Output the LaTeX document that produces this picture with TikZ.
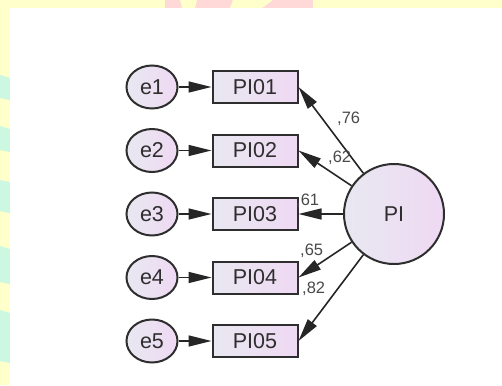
\documentclass[tikz,border=0pt]{standalone}
\usepackage{fontspec}
\setmainfont{Liberation Sans}
\usetikzlibrary{shapes.geometric, arrows.meta, positioning}

\definecolor{framey}{HTML}{FFFFCC}
\definecolor{frameg}{HTML}{CCF7E0}
\definecolor{framep}{HTML}{FFD8D8}
\definecolor{lilacA}{HTML}{E8E8F1}
\definecolor{lilacB}{HTML}{EFD9F3}
\definecolor{edgegray}{HTML}{2E2E2E}
\definecolor{loadgray}{HTML}{4A4A4A}

\begin{document}
\begin{tikzpicture}[
    x=1pt, y=-1pt,
    % Distances between node centres
    node distance=63.5pt and 103pt,
    on grid,
    % Style for the error terms
    errvar/.style={
        ellipse,
        draw=edgegray,
        line width=2pt,
        left color=lilacA,
        right color=lilacB,
        minimum width=51pt,
        minimum height=43pt,
        inner sep=0pt,
        text=edgegray,
        font=\fontsize{21.5}{24}\selectfont
    },
    % Style for the observed items
    obsbox/.style={
        rectangle,
        draw=edgegray,
        line width=2pt,
        left color=lilacA,
        right color=lilacB,
        minimum width=85pt,
        minimum height=32pt,
        inner sep=0pt,
        text=edgegray,
        font=\fontsize{21.5}{24}\selectfont
    },
    % Style for the latent factor
    latent/.style={
        circle,
        draw=edgegray,
        line width=2pt,
        left color=lilacA,
        right color=lilacB,
        minimum size=100pt,
        inner sep=0pt,
        text=edgegray,
        font=\fontsize{21.5}{24}\selectfont
    },
    % Style for the paths
    path/.style={
        line width=1.6pt,
        draw=black!85,
        -{Triangle[length=23pt,width=11pt]}
    },
    % Style for the loadings
    loading/.style={
        anchor=base west,
        inner sep=0pt,
        text=loadgray,
        font=\fontsize{16.5}{18}\selectfont
    }
]

% 0. Page frame
\useasboundingbox (0,0) rectangle (502,385);
\fill[framey] (0,0) rectangle (502,385);
\fill[framep] (165,0) rectangle (313,8);
\fill[framey] (180,0) -- (197,0) -- (195,8) -- (182,8) -- cycle;
\fill[framey] (233,0) -- (273,0) -- (262,8) -- (230,8) -- cycle;
\fill[frameg] (0,75) -- (10,78) -- (10,100) -- (0,98) -- cycle;
\fill[frameg] (0,126) -- (10,129) -- (10,152) -- (0,150) -- cycle;
\fill[frameg] (0,180) -- (10,182) -- (10,213) -- (0,211) -- cycle;
\fill[frameg] (0,246) -- (10,249) -- (10,284) -- (0,282) -- cycle;
\fill[frameg] (0,310) -- (10,313) -- (10,363) -- (0,361) -- cycle;
\fill[white] (10,8) rectangle (502,385);

% 1. Error terms
\node[errvar] (e1) at (152,87) {e1};
\node[errvar, below=of e1] (e2) {e2};
\node[errvar, below=of e2] (e3) {e3};
\node[errvar, below=of e3] (e4) {e4};
\node[errvar, below=of e4] (e5) {e5};

% 2. Observed items
\node[obsbox, right=of e1] (pi01) {PI01};
\node[obsbox, right=of e2] (pi02) {PI02};
\node[obsbox, right=of e3] (pi03) {PI03};
\node[obsbox, right=of e4] (pi04) {PI04};
\node[obsbox, right=of e5] (pi05) {PI05};

% 3. Latent factor
\node[latent, right=139pt of pi03] (pi) {PI};

% 4. Error paths
\draw[path] (e1) -- (pi01);
\draw[path] (e2) -- (pi02);
\draw[path] (e3) -- (pi03);
\draw[path] (e4) -- (pi04);
\draw[path] (e5) -- (pi05);

% 5. Factor loadings
\draw[path] (pi) -- (pi01.east);
\draw[path] (pi) -- (pi02.east);
\draw[path] (pi) -- (pi03.east);
\draw[path] (pi) -- (pi04.east);
\draw[path] (pi) -- (pi05.east);

\node[loading] (l76) at (337,123) {,76};
\node[loading] (l62) at (328,162) {,62};
\node[loading] (l61) at (296,205) {,61};
\node[loading] (l65) at (300,255) {,65};
\node[loading] (l82) at (302,293) {,82};

\end{tikzpicture}
\end{document}
